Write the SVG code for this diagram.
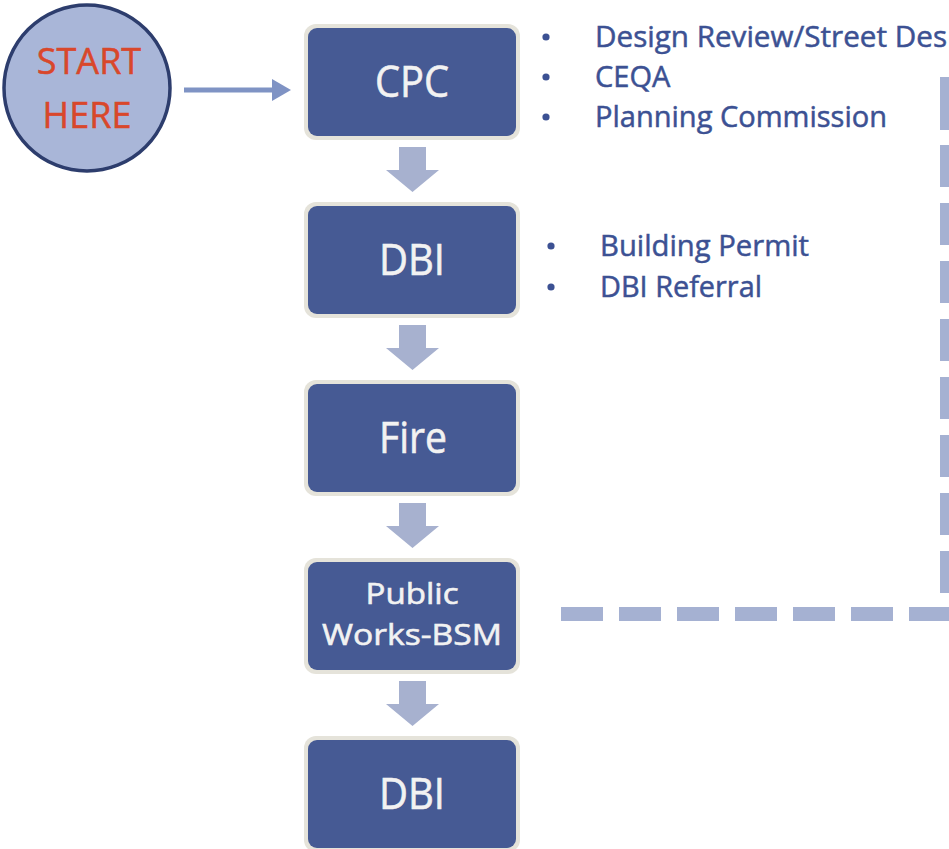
<svg xmlns="http://www.w3.org/2000/svg" width="949" height="849" viewBox="0 0 949 849">
<style>
.frame{fill:#e5e3da}
.box{fill:#465a94}
.lbl{font-family:"Open Sans","Liberation Sans",sans-serif;fill:#f2f2f2;stroke:#f2f2f2;stroke-width:0.6;text-anchor:middle}
.note{font-family:"Open Sans","Liberation Sans",sans-serif;fill:#3c5193;stroke:#3c5193;stroke-width:0.5;font-size:29px}
.bul{fill:#3c5193}
.start{font-family:"Open Sans","Liberation Sans",sans-serif;font-size:36px;fill:#d9472b;stroke:#d9472b;stroke-width:0.5;text-anchor:middle}
.down{fill:#a7b1cf}
.dash{fill:#a5b1d2}
</style>
<rect width="949" height="849" fill="#ffffff"/>
<g id="start">
<circle cx="87" cy="88" r="83" fill="#a9b6d8" stroke="#2d3d6d" stroke-width="3.5"/>
<text class="start" x="89" y="74">START</text>
<text class="start" x="87" y="128">HERE</text>
</g>
<g id="cpc">
<rect class="frame" x="304" y="24" width="216" height="116" rx="12"/>
<rect class="box" x="308" y="28" width="208" height="108" rx="9"/>
<text class="lbl" x="412" y="97" font-size="43" textLength="74" lengthAdjust="spacingAndGlyphs">CPC</text>
</g>
<g id="dbi1">
<rect class="frame" x="304" y="202" width="216" height="116" rx="12"/>
<rect class="box" x="308" y="206" width="208" height="108" rx="9"/>
<text class="lbl" x="412" y="275" font-size="43" textLength="66" lengthAdjust="spacingAndGlyphs">DBI</text>
</g>
<g id="fire">
<rect class="frame" x="304" y="380" width="216" height="116" rx="12"/>
<rect class="box" x="308" y="384" width="208" height="108" rx="9"/>
<text class="lbl" x="413" y="453" font-size="43" textLength="68" lengthAdjust="spacingAndGlyphs">Fire</text>
</g>
<g id="publicworks">
<rect class="frame" x="304" y="558" width="216" height="116" rx="12"/>
<rect class="box" x="308" y="562" width="208" height="108" rx="9"/>
<text class="lbl" x="412" y="604" font-size="30" textLength="93" lengthAdjust="spacingAndGlyphs">Public</text>
<text class="lbl" x="412" y="645" font-size="30" textLength="180" lengthAdjust="spacingAndGlyphs">Works-BSM</text>
</g>
<g id="dbi2">
<rect class="frame" x="304" y="736" width="216" height="116" rx="12"/>
<rect class="box" x="308" y="740" width="208" height="108" rx="9"/>
<text class="lbl" x="412" y="809" font-size="43" textLength="66" lengthAdjust="spacingAndGlyphs">DBI</text>
</g>
<g id="cpc-notes">
<circle class="bul" cx="546" cy="37" r="3.6"/>
<circle class="bul" cx="546" cy="77" r="3.6"/>
<circle class="bul" cx="546" cy="117" r="3.6"/>
<text class="note" x="595" y="47" textLength="352" lengthAdjust="spacingAndGlyphs">Design Review/Street Des</text>
<text class="note" x="595" y="87">CEQA</text>
<text class="note" x="595" y="127" textLength="292" lengthAdjust="spacingAndGlyphs">Planning Commission</text>
</g>
<g id="dbi-notes">
<circle class="bul" cx="551" cy="246" r="3.6"/>
<circle class="bul" cx="551" cy="287" r="3.6"/>
<text class="note" x="600" y="256" font-size="30" textLength="209" lengthAdjust="spacingAndGlyphs">Building Permit</text>
<text class="note" x="600" y="297" font-size="30" textLength="162" lengthAdjust="spacingAndGlyphs">DBI Referral</text>
</g>
<g id="connectors">
<line x1="184" y1="90" x2="274" y2="90" stroke="#7f93c4" stroke-width="5"/>
<polygon points="272,79 291,90 272,101" fill="#7f93c4"/>
<polygon class="down" points="399,147 426,147 426,170 439,170 412.5,192 386,170 399,170"/>
<polygon class="down" points="399,325 426,325 426,348 439,348 412.5,370 386,348 399,348"/>
<polygon class="down" points="399,503 426,503 426,526 439,526 412.5,548 386,526 399,526"/>
<polygon class="down" points="399,681 426,681 426,704 439,704 412.5,726 386,704 399,704"/>
<g class="dash">
<rect x="561" y="607" width="42" height="14"/>
<rect x="619" y="607" width="42" height="14"/>
<rect x="677" y="607" width="42" height="14"/>
<rect x="735" y="607" width="42" height="14"/>
<rect x="793" y="607" width="42" height="14"/>
<rect x="851" y="607" width="42" height="14"/>
<rect x="909" y="607" width="42" height="14"/>
<rect x="940" y="551" width="14" height="42"/>
<rect x="940" y="493" width="14" height="42"/>
<rect x="940" y="435" width="14" height="42"/>
<rect x="940" y="377" width="14" height="42"/>
<rect x="940" y="319" width="14" height="42"/>
<rect x="940" y="261" width="14" height="42"/>
<rect x="940" y="203" width="14" height="42"/>
<rect x="940" y="145" width="14" height="42"/>
<rect x="940" y="77" width="14" height="53"/>
</g>
</g>
</svg>
